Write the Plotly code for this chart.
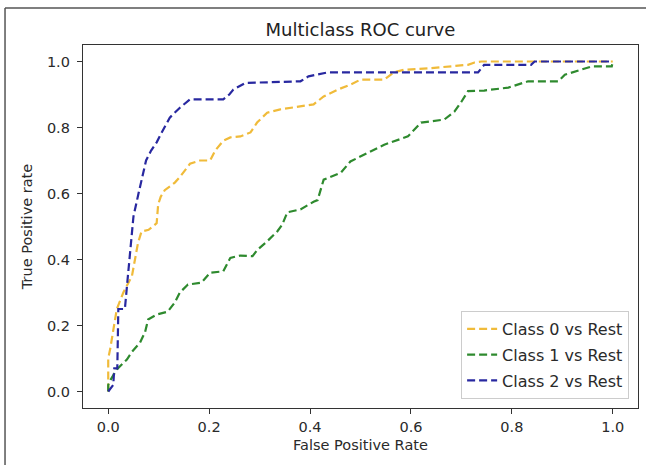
import plotly.graph_objects as go

# ---- data ----
class0_fpr = [0.0, 0.0, 0.004, 0.017, 0.03, 0.047, 0.059, 0.066, 0.08, 0.096, 0.099, 0.104, 0.112,
              0.132, 0.142, 0.152, 0.162, 0.182, 0.202, 0.212, 0.228, 0.242, 0.262, 0.282, 0.295,
              0.315, 0.341, 0.407, 0.427, 0.455, 0.48, 0.50, 0.547, 0.566, 0.586, 0.64, 0.713,
              0.726, 0.74, 1.0]
class0_tpr = [0.0, 0.10, 0.13, 0.25, 0.30, 0.35, 0.45, 0.485, 0.49, 0.51, 0.567, 0.59, 0.61,
              0.633, 0.65, 0.67, 0.69, 0.70, 0.70, 0.73, 0.76, 0.77, 0.773, 0.785, 0.815,
              0.845, 0.855, 0.87, 0.894, 0.915, 0.93, 0.945, 0.945, 0.967, 0.975, 0.98, 0.99,
              0.997, 1.0, 1.0]

class1_fpr = [0.0, 0.0, 0.005, 0.017, 0.037, 0.047, 0.063, 0.073, 0.079, 0.096, 0.118, 0.132,
              0.142, 0.158, 0.185, 0.202, 0.228, 0.242, 0.262, 0.286, 0.296, 0.315, 0.335,
              0.345, 0.355, 0.381, 0.407, 0.415, 0.427, 0.461, 0.48, 0.514, 0.547, 0.594,
              0.62, 0.666, 0.686, 0.70, 0.713, 0.745, 0.793, 0.832, 0.892, 0.905, 0.938,
              0.958, 0.998, 1.0]
class1_tpr = [0.0, 0.02, 0.036, 0.067, 0.097, 0.12, 0.148, 0.18, 0.218, 0.233, 0.242, 0.27,
              0.30, 0.324, 0.33, 0.36, 0.364, 0.405, 0.412, 0.41, 0.43, 0.455, 0.485,
              0.506, 0.543, 0.552, 0.575, 0.58, 0.642, 0.663, 0.697, 0.722, 0.748, 0.773,
              0.815, 0.824, 0.848, 0.878, 0.91, 0.912, 0.921, 0.94, 0.94, 0.96, 0.976,
              0.985, 0.985, 1.0]

class2_fpr = [0.0, 0.01, 0.012, 0.018, 0.02, 0.033, 0.039, 0.047, 0.05, 0.06, 0.068, 0.075,
              0.085, 0.096, 0.106, 0.115, 0.122, 0.142, 0.162, 0.228, 0.24, 0.248, 0.272,
              0.381, 0.397, 0.435, 0.733, 0.745, 0.838, 0.845, 1.0]
class2_tpr = [0.0, 0.02, 0.07, 0.07, 0.25, 0.25, 0.35, 0.47, 0.53, 0.60, 0.65, 0.70,
              0.73, 0.755, 0.785, 0.81, 0.83, 0.86, 0.885, 0.885, 0.90, 0.915, 0.935,
              0.94, 0.955, 0.967, 0.967, 0.99, 0.99, 1.0, 1.0]

series_names = ["Class 0 vs Rest", "Class 1 vs Rest", "Class 2 vs Rest"]
series_colors = ["#f0bb3a", "#2e8a2e", "#2828a0"]

x_ticks = [0.0, 0.2, 0.4, 0.6, 0.8, 1.0]
y_ticks = [0.0, 0.2, 0.4, 0.6, 0.8, 1.0]

fig = go.Figure()
for name, xs, ys, col in zip(series_names,
                             [class0_fpr, class1_fpr, class2_fpr],
                             [class0_tpr, class1_tpr, class2_tpr],
                             series_colors):
    fig.add_trace(go.Scatter(x=xs, y=ys, mode="lines", name=name, legendgroup=name,
                             line=dict(color=col, width=2.2, dash="8px,4px")))

font_family = "DejaVu Sans"
axis_common = dict(showgrid=False, zeroline=False, showline=True, mirror=True,
                   linecolor="#333333", linewidth=1.3, ticks="outside", ticklen=5,
                   tickwidth=1.2, tickcolor="#333333", tickformat=".1f",
                   tickfont=dict(family=font_family, size=14.5, color="#2a2a2a"))

fig.update_xaxes(range=[-0.05, 1.05], tickvals=x_ticks, **axis_common,
                 title=dict(text="False Positive Rate", standoff=6,
                            font=dict(family=font_family, size=14.5, color="#2a2a2a")))
fig.update_yaxes(range=[-0.05, 1.05], tickvals=y_ticks, **axis_common,
                 ticklabelstandoff=4,
                 title=dict(text="True Positive rate", standoff=10,
                            font=dict(family=font_family, size=14.5, color="#2a2a2a")))

fig.update_layout(
    width=646, height=465, autosize=False,
    margin=dict(l=83, r=8, t=45, b=57),
    paper_bgcolor="white", plot_bgcolor="white",
    title=dict(text="Multiclass ROC curve", x=0.558, xanchor="center",
               y=1 - 30 / 465, yanchor="middle",
               font=dict(family=font_family, size=18, color="#222222")),
    legend=dict(x=0.984, y=0.025, xanchor="right", yanchor="bottom",
                bgcolor="rgba(255,255,255,0.85)", bordercolor="#cccccc", borderwidth=1,
                tracegroupgap=2,
                font=dict(family=font_family, size=16, color="#2a2a2a")),
    shapes=[
        dict(type="line", xref="paper", yref="paper", x0=-0.1405, x1=-0.1405,
             y0=-0.2, y1=1.102, line=dict(color="#555555", width=1.5)),
        dict(type="line", xref="paper", yref="paper", x0=-0.1405, x1=1.1,
             y0=1.102, y1=1.102, line=dict(color="#555555", width=1.5)),
    ],
)

fig.write_html("out.html", config={"displayModeBar": False},
               post_script="document.body.style.margin='0px';")
